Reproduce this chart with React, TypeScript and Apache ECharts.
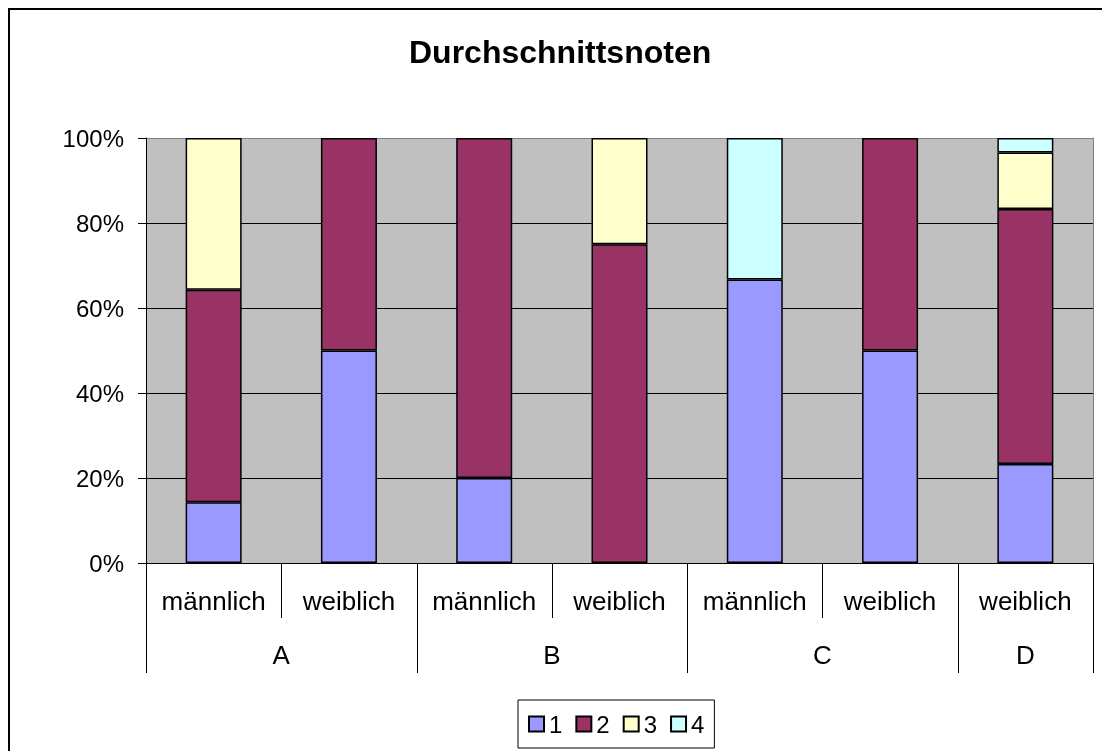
import React, { useEffect, useRef } from 'react';
import * as echarts from 'echarts';

const categories = ['männlich', 'weiblich', 'männlich', 'weiblich', 'männlich', 'weiblich', 'weiblich'];
const groups = ['A', 'B', 'C', 'D'];
const groupSizes = [2, 2, 2, 1];
const seriesNames = ['1', '2', '3', '4'];
const note1 = [14.3, 50, 20, 0, 66.7, 50, 23.3];
const note2 = [50, 50, 80, 75, 0, 50, 60];
const note3 = [35.7, 0, 0, 25, 0, 0, 13.3];
const note4 = [0, 0, 0, 0, 33.3, 0, 3.4];
const colors = ['#9999FF', '#993366', '#FFFFCC', '#CCFFFF'];

const FONT = '"Liberation Sans", Arial, sans-serif';

export default function App() {
  const ref = useRef<HTMLDivElement>(null);
  useEffect(() => {
    const chart = echarts.init(ref.current!, undefined, { renderer: 'svg' });
    const seriesData = [note1, note2, note3, note4];
    chart.setOption({
      animation: false,
      title: {
        text: 'Durchschnittsnoten',
        left: 399,
        top: 21,
        padding: [5, 0, 5, 0],
        textStyle: { fontSize: 32, fontWeight: 'bold', color: '#000', fontFamily: FONT },
      },
      legend: {
        data: seriesNames,
        left: 508,
        top: 690,
        itemWidth: 15,
        itemHeight: 15,
        itemGap: 13,
        padding: [12, 10],
        borderColor: '#000',
        borderWidth: 1,
        backgroundColor: '#fff',
        icon: 'rect',
        textStyle: { fontSize: 24, color: '#000', fontFamily: FONT },
      },
      grid: {
        left: 136,
        top: 128,
        width: 947,
        height: 425,
        show: false,
      },
      xAxis: {
        type: 'category',
        data: categories,
        axisLine: { lineStyle: { color: '#000', width: 1 } },
        axisTick: { show: false },
        axisLabel: { interval: 0, margin: 25, fontSize: 26, color: '#000', fontFamily: FONT },
      },
      yAxis: [
        {
          type: 'value',
          min: 0,
          max: 100,
          interval: 20,
          axisLine: { show: true, lineStyle: { color: '#000' } },
          axisTick: { show: true, length: 8, lineStyle: { color: '#000' } },
          axisLabel: { formatter: '{value}%', fontSize: 24, margin: 22, color: '#000', fontFamily: FONT },
          splitArea: { show: true, areaStyle: { color: ['#C0C0C0'] } },
          splitLine: {
            show: true,
            lineStyle: { color: ['#000', '#000', '#000', '#000', '#000', '#808080'], width: 1 },
          },
        },
        {
          type: 'value',
          min: 0,
          max: 100,
          interval: 20,
          position: 'right',
          axisLine: { show: true, lineStyle: { color: '#808080' } },
          axisTick: { show: false },
          axisLabel: { show: false },
          splitLine: { show: false },
        },
      ],
      series: seriesData.map((d, i) => ({
        name: seriesNames[i],
        type: 'bar',
        stack: 'total',
        barWidth: 56,
        itemStyle: { color: colors[i], borderColor: '#000', borderWidth: 1.5 },
        data: d.map((v) => (v === 0 ? '-' : v)),
      })),
    });

    // two-level category axis dividers, positioned with the axis' own scale
    const c0 = chart.convertToPixel({ xAxisIndex: 0 }, 0) as number;
    const c1 = chart.convertToPixel({ xAxisIndex: 0 }, 1) as number;
    const w = c1 - c0;
    const y0 = chart.convertToPixel({ yAxisIndex: 0 }, 0) as number;
    const edge = (b: number) => c0 + (b - 0.5) * w;
    const graphic: any[] = [];
    let start = 0;
    const bounds: number[] = [0];
    groupSizes.forEach((s, gi) => {
      const mid = edge(start + s / 2);
      graphic.push({
        type: 'text',
        x: mid,
        y: y0 + 92,
        style: {
          text: groups[gi],
          fill: '#000',
          font: `26px ${FONT}`,
          align: 'center',
          verticalAlign: 'middle',
        },
      });
      start += s;
      bounds.push(start);
    });
    for (let b = 0; b <= categories.length; b++) {
      const x = Math.round(edge(b)) + 0.5;
      const len = bounds.includes(b) ? 110 : 55;
      graphic.push({
        type: 'line',
        shape: { x1: x, y1: y0, x2: x, y2: y0 + len },
        style: { stroke: '#000', lineWidth: 1 },
      });
    }
    chart.setOption({ graphic });
    return () => chart.dispose();
  }, []);
  return (
    <div
      ref={ref}
      style={{
        position: 'fixed',
        left: 8,
        top: 8,
        width: 1092,
        height: 741,
        borderTop: '2px solid #000',
        borderLeft: '2px solid #000',
      }}
    />
  );
}
